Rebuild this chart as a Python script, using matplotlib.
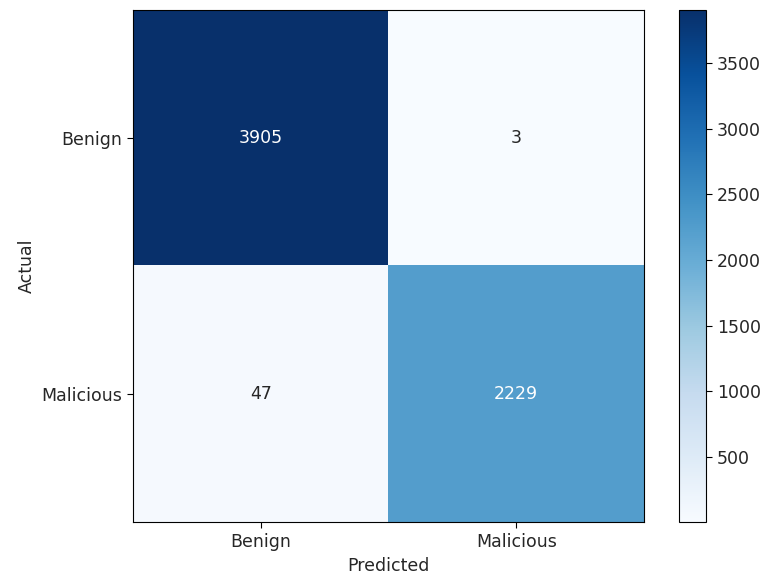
import matplotlib
matplotlib.use("Agg")
import matplotlib.pyplot as plt
import numpy as np

labels = ["Benign", "Malicious"]
row_benign = [3905, 3]
row_malicious = [47, 2229]
cm = np.array([row_benign, row_malicious])

plt.rcParams["font.size"] = 12.5
plt.rcParams["text.color"] = "#262626"
plt.rcParams["xtick.labelcolor"] = "#262626"
plt.rcParams["ytick.labelcolor"] = "#262626"
plt.rcParams["axes.labelcolor"] = "#262626"
plt.rcParams["xtick.major.size"] = 4.5
plt.rcParams["ytick.major.size"] = 4.5

fig = plt.figure(figsize=(7.62, 5.76), dpi=100)
ax = fig.add_axes([133/762, 1-522/576, (644-133)/762, (522-10)/576])
cax = fig.add_axes([679/762, 1-522/576, 27/762, (522-10)/576])
im = ax.imshow(cm, cmap="Blues", interpolation="nearest", aspect="auto")
fig.colorbar(im, cax=cax)

ax.set_xticks(range(len(labels)))
ax.set_xticklabels(labels)
ax.set_yticks(range(len(labels)))
ax.set_yticklabels(labels)
ax.set_xlabel("Predicted")
ax.set_ylabel("Actual")

thresh = cm.max() / 2
for i in range(cm.shape[0]):
    for j in range(cm.shape[1]):
        ax.text(j, i, str(cm[i, j]), ha="center", va="center",
                color="white" if cm[i, j] > thresh else "#262626")

fig.savefig("out.png", dpi=100)
